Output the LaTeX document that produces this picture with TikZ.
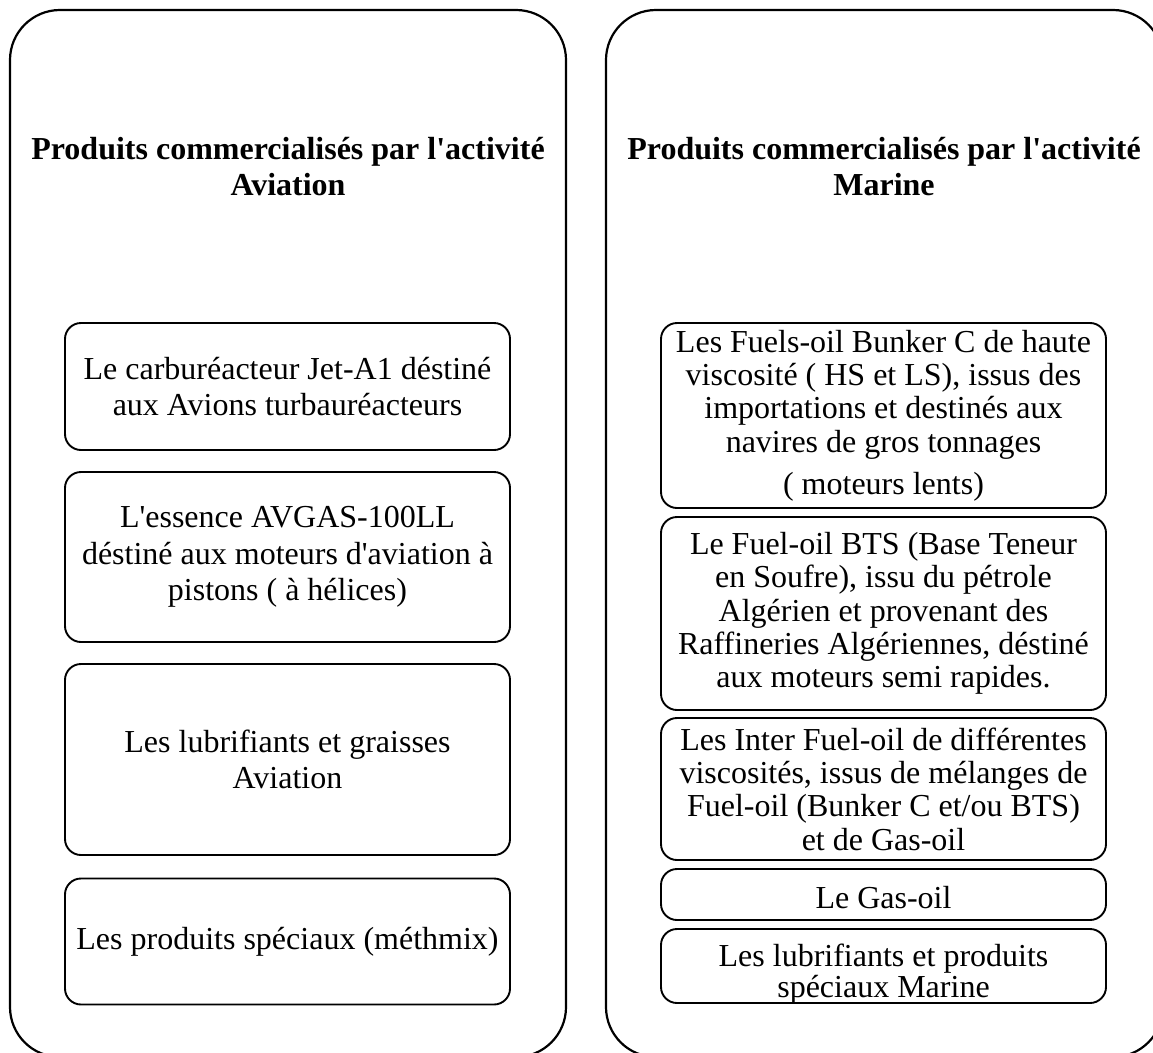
\documentclass[tikz,border=0pt]{standalone}
\usepackage{fontspec}
\setmainfont{Liberation Serif}[Ligatures=TeXOff]
\begin{document}
\begin{tikzpicture}[x=1pt,y=-1pt,
  panel/.style={draw, line width=2.2pt, rounded corners=50pt, minimum width=556pt, minimum height=1047pt, inner sep=0pt},
  item/.style={draw, line width=1.9pt, rounded corners=16pt, minimum width=445pt, inner sep=0pt, align=center, font=\fontsize{32}{36.5}\selectfont},
  ritem/.style={item, font=\fontsize{32}{33.3}\selectfont},
  rtext/.style={align=center, inner sep=0pt, font=\fontsize{32}{31.5}\selectfont},
  heading/.style={align=center, font=\fontsize{32}{36}\selectfont\bfseries}]
\useasboundingbox (0,0) rectangle (1153,1052);
\clip (0,0) rectangle (1153,1052);

% two activity panels
\node[panel] (aviation) at (288,533.5) {};
\node[panel, minimum width=557pt] (marine) at (884.5,533.5) {};

% headings
\node[heading] (tav) at (288,167) {Produits commercialisés par l'activité\\Aviation};
\node[heading] (tma) at (884,167) {Produits commercialisés par l'activité\\Marine};

% aviation products
\node[item, minimum height=127pt] (a1) at (287.5,386.5)
  {Le carburéacteur Jet-A1 déstiné\\aux Avions turbauréacteurs};
\node[item, minimum height=170pt] (a2) at (287.5,557)
  {L'essence AVGAS-100LL\\déstiné aux moteurs d'aviation à\\pistons ( à hélices)};
\node[item, minimum height=191pt] (a3) at (287.5,759.5)
  {Les lubrifiants et graisses\\Aviation};
\node[item, minimum height=126pt] (a4) at (287.5,941.5)
  {Les produits spéciaux (méthmix)};

% marine products
\node[ritem, minimum height=185pt] (m1) at (883.5,415.5)
  {Les Fuels-oil Bunker C de haute\\viscosité ( HS et LS), issus des\\importations et destinés aux\\navires de gros tonnages\\[9pt]( moteurs lents)};
\node[ritem, minimum height=193pt] (m2) at (883.5,613.5)
  {Le Fuel-oil BTS (Base Teneur\\en Soufre), issu du pétrole\\Algérien et provenant des\\Raffineries Algériennes, déstiné\\aux moteurs semi rapides.};
\node[ritem, minimum height=142pt] (m3) at (883.5,789)
  {Les Inter Fuel-oil de différentes\\viscosités, issus de mélanges de\\Fuel-oil (Bunker C et/ou BTS)\\et de Gas-oil};
\node[ritem, minimum height=51pt] (m4) at (883.5,894.5) {};
\node[rtext] (m4t) at ([yshift=-3pt]m4.center) {Le Gas-oil};
\node[ritem, minimum height=74pt] (m5) at (883.5,966) {};
\node[rtext] (m5t) at ([yshift=-8pt]m5.center)
  {Les lubrifiants et produits\\spéciaux Marine};
\end{tikzpicture}
\end{document}
